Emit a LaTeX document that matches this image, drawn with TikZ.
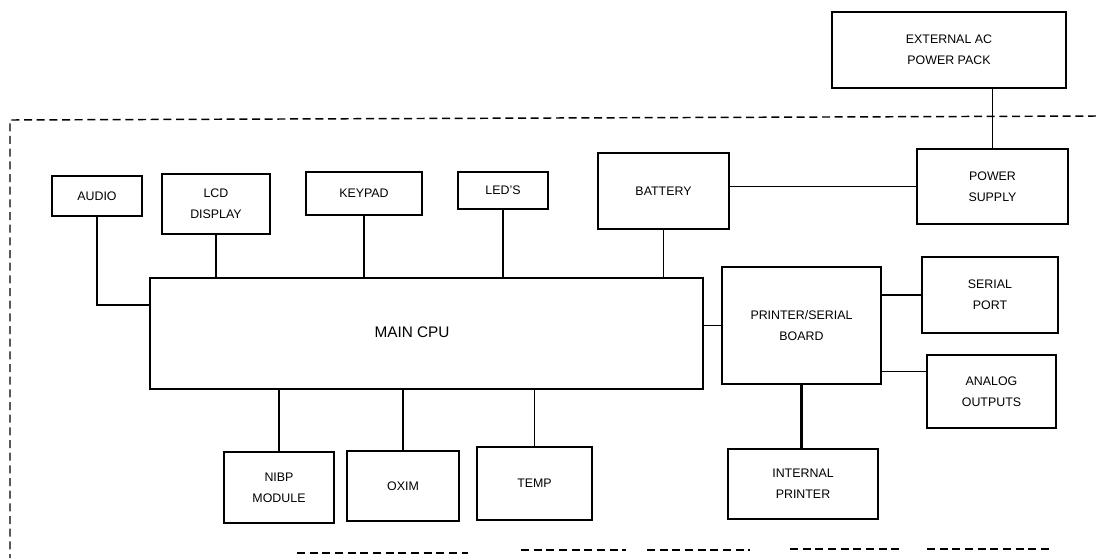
\documentclass[tikz,border=0pt]{standalone}
\usepackage{fontspec}
\setmainfont{Liberation Sans}
\usetikzlibrary{calc}
\tikzset{
  box/.style={draw=black, line width=1.1pt, rectangle, inner sep=0pt, align=center,
              font=\fontsize{9.3}{16}\selectfont},
  conn/.style={draw=black, line width=1.1pt},
  bound/.style={draw=black, line width=1.1pt, dash pattern=on 6pt off 3.5pt},
}
\begin{document}
\begin{tikzpicture}[x=0.75pt,y=-0.75pt]
\useasboundingbox (0,0) rectangle (1096,558);
% boxes
\node[box, minimum width=234*0.75pt, minimum height=76*0.75pt] (ext) at (949,50) {EXTERNAL AC\\POWER PACK};
\node[box, minimum width=151*0.75pt, minimum height=75*0.75pt] (ps) at (992.5,186.5) {POWER\\SUPPLY};
\node[box, minimum width=131*0.75pt, minimum height=76*0.75pt] (bat) at (663.5,191) {BATTERY};
\node[box, minimum width=553*0.75pt, minimum height=111*0.75pt] (cpu) at (426.5,333.5) {};
\node[font=\fontsize{11.5}{14}\selectfont] (cpulabel) at (412,332) {MAIN CPU};
\node[box, minimum width=159*0.75pt, minimum height=117*0.75pt] (board) at (801.5,325.5) {PRINTER/SERIAL\\BOARD};
\node[box, minimum width=136*0.75pt, minimum height=76*0.75pt] (serial) at (990,295) {SERIAL\\PORT};
\node[box, minimum width=129*0.75pt, minimum height=73*0.75pt] (analog) at (991.5,391.5) {ANALOG\\OUTPUTS};
\node[box, minimum width=150*0.75pt, minimum height=70*0.75pt] (iprn) at (803,484) {INTERNAL\\PRINTER};
\node[box, minimum width=90*0.75pt, minimum height=40*0.75pt] (audio) at (97,196) {AUDIO};
\node[box, minimum width=108*0.75pt, minimum height=60*0.75pt] (lcd) at (216,204) {LCD\\DISPLAY};
\node[box, minimum width=116*0.75pt, minimum height=43*0.75pt] (keypad) at (364,193.5) {KEYPAD};
\node[box, minimum width=90*0.75pt, minimum height=37*0.75pt] (leds) at (503,190.5) {LED'S};
\node[box, minimum width=110*0.75pt, minimum height=71*0.75pt] (nibp) at (279,487.5) {NIBP\\MODULE};
\node[box, minimum width=112*0.75pt, minimum height=70*0.75pt] (oxim) at (403,486) {OXIM};
\node[box, minimum width=115*0.75pt, minimum height=73*0.75pt] (temp) at (534.5,483.5) {TEMP};
% connectors
\draw[conn] (ext.south -| ps.north) -- (ps.north);
\draw[conn] (ps.west -| bat.east) -- (ps.west);
\draw[conn] (bat.south) -- (bat.south |- cpu.north);
\coordinate (audiojoin) at (150,305);
\draw[conn] (audio.south) |- (audiojoin);
\draw[conn] (lcd.south) -- (lcd.south |- cpu.north);
\draw[conn] (keypad.south) -- (keypad.south |- cpu.north);
\draw[conn] (leds.south) -- (leds.south |- cpu.north);
\draw[conn] (cpu.east |- board.west) -- (board.west);
\draw[conn] (serial.west -| board.east) -- (serial.west);
\coordinate (anj) at ($(analog.north west)!0.23!(analog.south west)$);
\draw[conn] (anj -| board.east) -- (anj);
\draw[conn, line width=1.8pt] (board.south) -- (board.south |- iprn.north);
\draw[conn] (nibp.north |- cpu.south) -- (nibp.north);
\draw[conn] (oxim.north |- cpu.south) -- (oxim.north);
\draw[conn] (temp.north |- cpu.south) -- (temp.north);
% boundary
\coordinate (bTL) at (10,120);
\coordinate (bTR) at (1096,116);
\coordinate (bBL) at (10,558);
\draw[bound] (bTR) -- (bTL) -- (bBL);
\coordinate (d1a) at (297,553); \coordinate (d1b) at (468,553);
\coordinate (d2a) at (521,550); \coordinate (d2b) at (626,550);
\coordinate (d3a) at (647,550); \coordinate (d3b) at (750,550);
\coordinate (d4a) at (790,549); \coordinate (d4b) at (899,549);
\coordinate (d5a) at (927,549); \coordinate (d5b) at (1049,549);
\draw[bound] (d1a) -- (d1b);
\draw[bound] (d2a) -- (d2b);
\draw[bound] (d3a) -- (d3b);
\draw[bound] (d4a) -- (d4b);
\draw[bound] (d5a) -- (d5b);
\end{tikzpicture}
\end{document}
